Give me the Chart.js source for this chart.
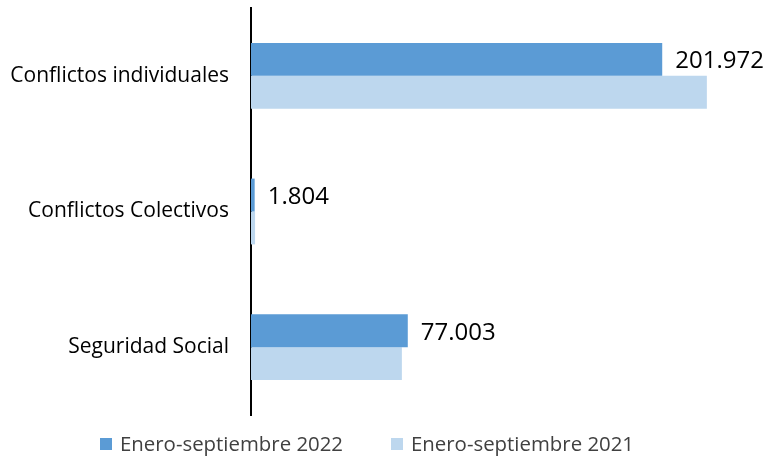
<!DOCTYPE html>
<html><head><meta charset="utf-8">
<script src="https://cdn.jsdelivr.net/npm/chart.js@4.4.1/dist/chart.umd.min.js"></script>
<style>html,body{margin:0;padding:0;background:#fff}#wrap{width:769px;height:458px}</style>
</head><body><div id="wrap"><canvas id="c" width="769" height="458"></canvas></div>
<script>
const categories = ["Conflictos individuales", "Conflictos Colectivos", "Seguridad Social"];
const series2022 = [201972, 1804, 77003];
const series2021 = [223900, 2000, 74100];
const seriesNames = ["Enero-septiembre 2022", "Enero-septiembre 2021"];
const xMax = 250000;

function fmt(v){return String(v).replace(/\B(?=(\d{3})+(?!\d))/g, ".");}

const FONT = "'Open Sans', sans-serif";
const labelPlugin = {
  id: 'valLabels',
  afterDatasetsDraw(chart){
    const ctx = chart.ctx;
    const meta = chart.getDatasetMeta(0);
    ctx.save();
    ctx.font = "24px " + FONT;
    ctx.fillStyle = "#000";
    ctx.textBaseline = "middle";
    ctx.textAlign = "left";
    meta.data.forEach((bar, i) => {
      ctx.fillText(fmt(series2022[i]), bar.x + 13, bar.y + 2);
    });
    ctx.restore();
  }
};

const legendPlugin = {
  id: 'customLegend',
  afterDraw(chart){
    const ctx = chart.ctx;
    const ds = chart.data.datasets;
    const starts = [100, 391];
    const yMid = 444;
    ctx.save();
    ctx.font = "20.4px " + FONT;
    ctx.textBaseline = "middle";
    ctx.textAlign = "left";
    ds.forEach((d, i) => {
      ctx.fillStyle = d.backgroundColor;
      ctx.fillRect(starts[i], yMid - 6, 12, 12);
      ctx.fillStyle = "#404040";
      ctx.fillText(d.label, starts[i] + 20, yMid + 1);
    });
    ctx.restore();
  }
};

new Chart(document.getElementById('c'), {
  type: 'bar',
  data: {
    labels: categories,
    datasets: [
      {label: seriesNames[0], data: series2022, backgroundColor: '#5B9BD5', barPercentage: 1.0, categoryPercentage: 0.485},
      {label: seriesNames[1], data: series2021, backgroundColor: '#BDD7EE', barPercentage: 1.0, categoryPercentage: 0.485}
    ]
  },
  options: {
    indexAxis: 'y',
    responsive: false,
    animation: false,
    layout: {padding: {left: 0, right: 9, top: 8, bottom: 43}},
    scales: {
      x: {display: false, min: 0, max: xMax},
      y: {
        grid: {display: false},
        border: {display: true, color: '#000', width: 2},
        ticks: {color: '#000', font: {family: FONT, size: 21}, padding: 14},
        afterFit(scale){ scale.width = 251; scale.paddingTop = 0; scale.paddingBottom = 0; }
      }
    },
    plugins: {
      legend: {display: false},
      tooltip: {enabled: false}
    }
  },
  plugins: [labelPlugin, legendPlugin]
});
</script></body></html>
